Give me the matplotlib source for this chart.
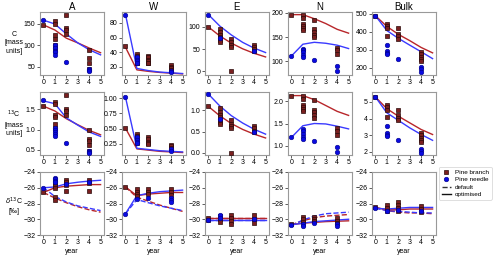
import matplotlib
matplotlib.use("Agg")
import matplotlib.pyplot as plt
from matplotlib.lines import Line2D

# --- data -------------------------------------------------------------
panels = ["A", "W", "E", "N", "Bulk"]
years = [0, 1, 2, 3, 4, 5]

# row 1: C [mass units], model lines (optimised) per panel
c_branch_line = {
    "A": [148, 136, 117, 106, 94, 83],
    "W": [47, 16, 14, 12.5, 11.5, 10.5],
    "E": [100, 79.6, 63.4, 50.4, 40.2, 32],
    "N": [196.5, 196.5, 188, 178, 166, 158],
    "Bulk": [490, 431, 387, 352, 314, 284],
}
c_needle_line = {
    "A": [159, 150, 127, 106, 90, 78],
    "W": [92, 18, 15, 13, 12, 11],
    "E": [128, 102, 82, 65, 52, 42],
    "N": [110.5, 135, 139, 137, 133, 126],
    "Bulk": [490, 408, 365, 327, 290, 252],
}
c_branch_obs = {
    "A": ([0, 1, 1, 1, 1, 1, 1, 2, 2, 2, 2, 4, 4, 4, 4],
          [148, 156, 150, 124, 116, 100, 93, 170, 140, 135, 126, 90, 70, 60, 45]),
    "W": ([0, 1, 1, 1, 1, 1, 1, 1, 2, 2, 2, 2, 2, 2, 4, 4, 4, 4],
          [48, 38, 35, 32, 30, 28, 26, 25, 35, 33, 30, 28, 26, 25, 22, 20, 18, 16]),
    "E": ([0, 1, 1, 1, 1, 1, 1, 1, 2, 2, 2, 2, 2, 4, 4, 4, 4],
          [100, 95, 88, 82, 78, 75, 70, 66, 72, 65, 60, 55, 0, 60, 55, 50, 45]),
    "N": ([0, 1, 1, 1, 1, 1, 1, 2, 2, 2, 2, 2, 4, 4, 4],
          [196, 196, 190, 178, 172, 168, 165, 186, 166, 160, 155, 150, 128, 122, 114]),
    "Bulk": ([0, 1, 1, 1, 1, 2, 2, 2, 2, 4, 4, 4, 4, 4],
             [490, 445, 435, 420, 380, 420, 390, 375, 360, 290, 275, 262, 250, 240]),
}
c_needle_obs = {
    "A": ([0, 1, 1, 1, 1, 1, 2, 4, 4, 4], [160, 100, 93, 88, 84, 78, 62, 45, 42, 40]),
    "W": ([0, 1, 1, 1, 1, 4, 4], [91, 34, 30, 28, 25, 15, 13]),
    "E": ([0, 1, 4], [128, 75, 46]),
    "N": ([0, 1, 1, 1, 1, 1, 2, 4, 4], [110, 125, 122, 118, 112, 108, 103, 90, 80]),
    "Bulk": ([0, 1, 1, 1, 1, 2, 4, 4, 4], [490, 330, 295, 285, 275, 250, 205, 195, 180]),
}

# row 2: 13C [mass units]
c13_branch_line = {
    "A": [1.58, 1.46, 1.27, 1.12, 0.98, 0.87],
    "W": [0.51, 0.17, 0.15, 0.13, 0.12, 0.11],
    "E": [1.09, 0.87, 0.69, 0.55, 0.44, 0.35],
    "N": [2.12, 2.12, 2.03, 1.90, 1.77, 1.68],
    "Bulk": [5.3, 4.6, 4.15, 3.75, 3.35, 3.05],
}
c13_needle_line = {
    "A": [1.71, 1.64, 1.29, 1.11, 0.94, 0.83],
    "W": [1.02, 0.18, 0.16, 0.14, 0.13, 0.12],
    "E": [1.38, 1.10, 0.875, 0.70, 0.555, 0.44],
    "N": [1.19, 1.45, 1.50, 1.49, 1.44, 1.38],
    "Bulk": [5.3, 4.35, 3.9, 3.45, 3.05, 2.7],
}
c13_branch_obs = {
    "A": ([0, 1, 1, 1, 1, 1, 1, 2, 2, 2, 2, 4, 4, 4, 4, 4],
          [1.58, 1.68, 1.64, 1.35, 1.30, 1.15, 1.05, 1.85, 1.5, 1.46, 1.37, 0.98, 0.77, 0.72, 0.63, 0.48]),
    "W": ([0, 1, 1, 1, 1, 1, 1, 2, 2, 2, 2, 2, 4, 4, 4],
          [0.51, 0.41, 0.38, 0.35, 0.32, 0.30, 0.27, 0.37, 0.33, 0.29, 0.27, 0.25, 0.24, 0.22, 0.19]),
    "E": ([0, 1, 1, 1, 1, 1, 1, 1, 2, 2, 2, 2, 2, 4, 4, 4, 4],
          [1.09, 1.05, 0.97, 0.90, 0.85, 0.78, 0.73, 0.69, 0.78, 0.68, 0.62, 0.58, 0.0, 0.64, 0.58, 0.52, 0.48]),
    "N": ([0, 1, 1, 1, 1, 1, 1, 2, 2, 2, 2, 2, 4, 4, 4],
          [2.12, 2.12, 2.05, 1.92, 1.86, 1.82, 1.78, 2.02, 1.80, 1.75, 1.70, 1.63, 1.40, 1.33, 1.25]),
    "Bulk": ([0, 1, 1, 1, 1, 2, 2, 2, 2, 4, 4, 4, 4, 4],
             [5.3, 4.8, 4.7, 4.55, 4.1, 4.55, 4.25, 4.05, 3.9, 3.15, 3.0, 2.85, 2.7, 2.6]),
}
c13_needle_obs = {
    "A": ([0, 1, 1, 1, 1, 1, 2, 4, 4, 4], [1.72, 1.05, 1.0, 0.95, 0.9, 0.85, 0.67, 0.48, 0.45, 0.43]),
    "W": ([0, 1, 1, 1, 1, 4, 4], [1.02, 0.36, 0.32, 0.29, 0.26, 0.16, 0.14]),
    "E": ([0, 1, 4], [1.38, 0.80, 0.50]),
    "N": ([0, 1, 1, 1, 1, 1, 2, 4, 4], [1.19, 1.37, 1.33, 1.27, 1.20, 1.16, 1.11, 0.98, 0.87]),
    "Bulk": ([0, 1, 1, 1, 1, 2, 4, 4, 4], [5.3, 3.55, 3.15, 3.05, 2.95, 2.7, 2.2, 2.05, 1.95]),
}

# row 3: d13C [permil], default (dashed) and optimised (solid)
d13_branch_opt = {
    "A": [-26.6, -26.0, -25.8, -25.7, -25.6, -25.6],
    "W": [-25.9, -27.0, -26.8, -26.7, -26.6, -26.6],
    "E": [-29.9, -29.9, -29.9, -29.9, -29.9, -29.9],
    "N": [-30.7, -30.5, -30.4, -30.3, -30.25, -30.2],
    "Bulk": [-28.5, -28.8, -28.8, -28.7, -28.7, -28.7],
}
d13_needle_opt = {
    "A": [-26.0, -25.9, -25.5, -25.3, -25.15, -25.05],
    "W": [-29.3, -27.0, -26.7, -26.5, -26.4, -26.3],
    "E": [-30.1, -30.1, -30.1, -30.1, -30.1, -30.1],
    "N": [-30.7, -30.5, -30.3, -30.2, -30.1, -30.0],
    "Bulk": [-28.6, -28.7, -28.6, -28.5, -28.5, -28.5],
}
d13_branch_def = {
    "A": [-26.6, -27.3, -27.9, -28.4, -28.8, -29.1],
    "W": [-25.9, -27.2, -27.7, -28.2, -28.6, -29.0],
    "E": [-29.9, -29.9, -29.9, -29.9, -29.9, -29.9],
    "N": [-30.7, -30.2, -29.8, -29.6, -29.5, -29.4],
    "Bulk": [-28.5, -28.9, -29.1, -29.2, -29.2, -29.3],
}
d13_needle_def = {
    "A": [-26.0, -27.1, -27.8, -28.3, -28.6, -28.9],
    "W": [-29.3, -27.5, -27.9, -28.3, -28.6, -28.9],
    "E": [-30.1, -30.1, -30.1, -30.1, -30.1, -30.1],
    "N": [-30.8, -30.1, -29.6, -29.3, -29.2, -29.1],
    "Bulk": [-28.6, -28.9, -29.0, -29.1, -29.2, -29.2],
}
d13_branch_obs = {
    "A": ([0, 1, 1, 1, 1, 1, 1, 2, 2, 2, 2, 4, 4, 4],
          [-26.6, -25.3, -25.6, -25.8, -26.0, -27.2, -27.5, -25.0, -25.3, -25.6, -26.4, -25.0, -25.4, -26.4]),
    "W": ([0, 1, 1, 1, 1, 2, 2, 2, 4, 4, 4],
          [-25.9, -26.2, -26.5, -26.8, -27.1, -26.2, -26.5, -26.8, -26.2, -26.5, -26.9]),
    "E": ([0, 0, 1, 1, 1, 2, 2, 2, 2, 4, 4, 4],
          [-29.8, -30.1, -29.6, -30.0, -30.4, -29.4, -29.8, -30.2, -30.6, -29.5, -30.0, -30.5]),
    "N": ([0, 1, 1, 1, 1, 2, 2, 2, 4, 4, 4],
          [-30.6, -29.7, -30.0, -30.3, -30.6, -29.7, -30.0, -30.2, -29.9, -30.2, -30.5]),
    "Bulk": ([0, 1, 1, 1, 2, 2, 2, 2, 4, 4, 4],
             [-28.4, -28.2, -28.6, -29.0, -27.8, -28.2, -28.6, -29.0, -28.3, -28.7, -29.1]),
}
d13_needle_obs = {
    "A": ([0, 1, 1, 1, 1, 2, 4], [-26.0, -24.7, -24.9, -25.1, -25.3, -25.5, -25.3]),
    "W": ([0, 1, 2, 4, 4, 4], [-29.3, -27.4, -27.3, -27.3, -27.6, -27.8]),
    "E": ([0, 1, 1, 4], [-30.1, -29.5, -29.8, -30.0]),
    "N": ([0, 1, 1, 2, 4, 4], [-30.7, -30.6, -30.9, -30.5, -30.6, -30.9]),
    "Bulk": ([0, 1, 2, 4], [-28.6, -28.9, -28.8, -28.9]),
}

ylims_c = {"A": (31, 178), "W": (9, 95), "E": (-9, 134), "N": (71, 202), "Bulk": (161, 511)}
yticks_c = {"A": [50, 100, 150], "W": [20, 40, 60, 80], "E": [0, 50, 100],
            "N": [100, 150, 200], "Bulk": [200, 300, 400, 500]}
ylims_13 = {"A": (0.37, 1.93), "W": (0.07, 1.10), "E": (-0.05, 1.43), "N": (0.8, 2.2), "Bulk": (1.82, 5.6)}
yticks_13 = {"A": [0.5, 1.0, 1.5], "W": [0.25, 0.50, 0.75, 1.00], "E": [0.0, 0.5, 1.0],
             "N": [1.0, 1.5, 2.0], "Bulk": [2, 3, 4, 5]}
ytl_13 = {"A": ["0.5", "1.0", "1.5"], "W": ["0.25", "0.50", "0.75", "1.00"],
          "E": ["0.0", "0.5", "1.0"], "N": ["1.0", "1.5", "2.0"], "Bulk": ["2", "3", "4", "5"]}

row_labels = ["C\n[mass\nunits]", "$^{13}$C\n[mass\nunits]", "$\\delta^{13}$C\n[‰]"]

# --- style ------------------------------------------------------------
BROWN = "#7a1f1f"
BLUE = "#0a0ae0"
RED_LINE = "#b8262a"
BLUE_LINE = "#3a3aff"

plt.rcParams["font.family"] = ["Liberation Sans", "DejaVu Sans"]
plt.rcParams["font.size"] = 5

fig = plt.figure(figsize=(5.0, 2.56), dpi=100)

lefts = [40, 122, 205, 288, 372]
w = 64
tops = [12, 92, 172]
h = 63


def style_axis(ax):
    for sp in ax.spines.values():
        sp.set_color("#999999")
        sp.set_linewidth(0.8)
    ax.tick_params(direction="out", length=2.0, width=0.6, color="#444444",
                   labelsize=5, pad=1.2)
    ax.set_xlim(-0.3, 5.3)
    ax.set_xticks(years)


def draw_obs(ax, branch, needle):
    ax.plot(branch[0], branch[1], ls="none", marker="s", ms=3.0,
            mfc=BROWN, mec="#2a0a0a", mew=0.5, zorder=3)
    ax.plot(needle[0], needle[1], ls="none", marker="o", ms=3.3,
            mfc=BLUE, mec="#000088", mew=0.4, zorder=3)


for r in range(3):
    for i, p in enumerate(panels):
        ax = fig.add_axes([lefts[i] / 500, 1 - (tops[r] + h) / 256, w / 500, h / 256])
        style_axis(ax)
        if r == 0:
            ax.plot(years, c_branch_line[p], color=RED_LINE, lw=1.0, zorder=2)
            ax.plot(years, c_needle_line[p], color=BLUE_LINE, lw=1.0, zorder=2)
            draw_obs(ax, c_branch_obs[p], c_needle_obs[p])
            ax.set_ylim(*ylims_c[p])
            ax.set_yticks(yticks_c[p])
            ax.set_title(p, fontsize=7, pad=1.5)
        elif r == 1:
            ax.plot(years, c13_branch_line[p], color=RED_LINE, lw=1.0, zorder=2)
            ax.plot(years, c13_needle_line[p], color=BLUE_LINE, lw=1.0, zorder=2)
            draw_obs(ax, c13_branch_obs[p], c13_needle_obs[p])
            ax.set_ylim(*ylims_13[p])
            ax.set_yticks(yticks_13[p])
            ax.set_yticklabels(ytl_13[p])
        else:
            ax.plot(years, d13_branch_def[p], color=RED_LINE, lw=1.0, ls="--", zorder=2)
            ax.plot(years, d13_needle_def[p], color=BLUE_LINE, lw=1.0, ls="--", zorder=2)
            ax.plot(years, d13_branch_opt[p], color=RED_LINE, lw=1.0, zorder=2)
            ax.plot(years, d13_needle_opt[p], color=BLUE_LINE, lw=1.0, zorder=2)
            draw_obs(ax, d13_branch_obs[p], d13_needle_obs[p])
            ax.set_ylim(-32, -24)
            ax.set_yticks([-32, -30, -28, -26, -24])
            ax.set_xlabel("year", fontsize=5, labelpad=1)

label_y = [43, 123, 205]
for r in range(3):
    fig.text(14 / 500, 1 - label_y[r] / 256, row_labels[r], ha="center", va="center",
             fontsize=5, linespacing=1.25)

handles = [
    Line2D([], [], ls="none", marker="s", ms=3.0, mfc=BROWN, mec="#2a0a0a", mew=0.5),
    Line2D([], [], ls="none", marker="o", ms=3.3, mfc=BLUE, mec="#000088", mew=0.4),
    Line2D([], [], color="#333333", ls="--", lw=1.0),
    Line2D([], [], color="#111111", lw=1.0),
]
leg = fig.legend(handles, ["Pine branch", "Pine needle", "default", "optimised"],
                 loc="upper left", bbox_to_anchor=(439 / 500, 1 - 167 / 256),
                 fontsize=4.6, frameon=True, fancybox=True,
                 handlelength=1.5, handletextpad=0.6, borderpad=0.4, labelspacing=0.3,
                 borderaxespad=0)
leg.get_frame().set_edgecolor("#d0d0d0")
leg.get_frame().set_linewidth(0.6)

fig.savefig("out.png", dpi=100)
